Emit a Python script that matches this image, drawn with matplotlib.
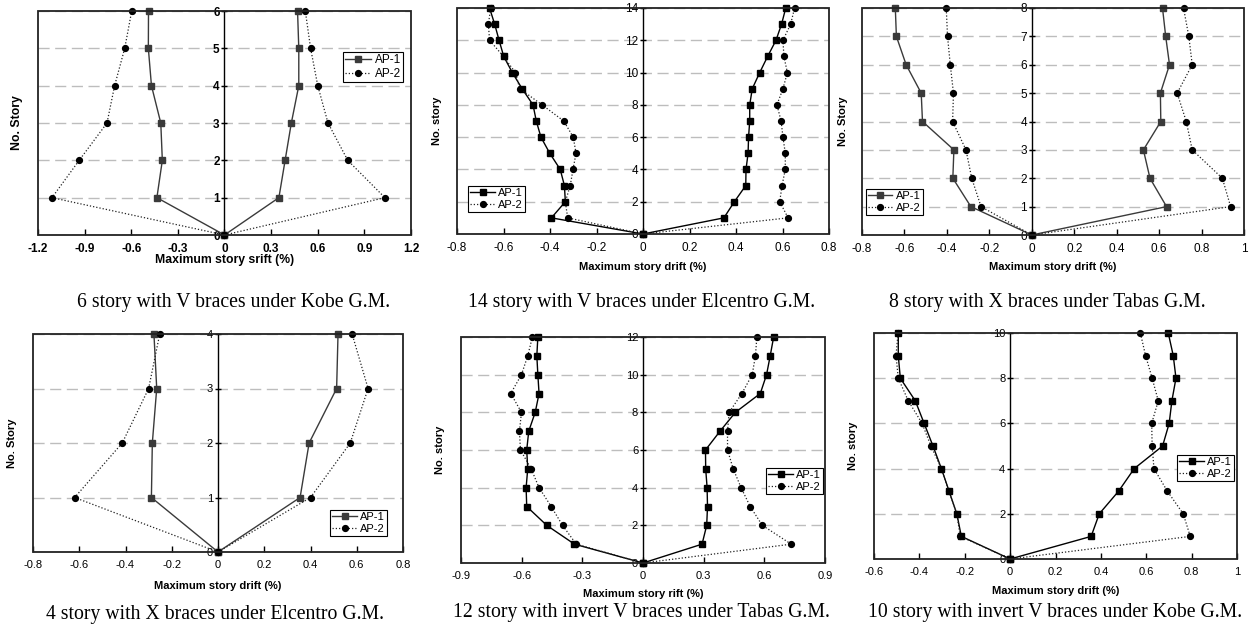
import matplotlib
matplotlib.use("Agg")
import matplotlib.pyplot as plt
from matplotlib.patches import Rectangle
from matplotlib.ticker import FuncFormatter

plt.rcParams['font.family'] = ['Liberation Sans', 'DejaVu Sans']

W, H = 1249, 627

# 6 story with V braces under Kobe
p1_story = [1, 2, 3, 4, 5, 6]
p1_ap1_neg = [-0.435, -0.40, -0.41, -0.47, -0.49, -0.489]
p1_ap1_pos = [0.35, 0.39, 0.43, 0.478, 0.478, 0.47]
p1_ap2_neg = [-1.11, -0.935, -0.756, -0.707, -0.642, -0.597]
p1_ap2_pos = [1.032, 0.793, 0.666, 0.60, 0.554, 0.52]

# 14 story with V braces under Elcentro
p2_story = list(range(1, 15))
p2_ap1_neg = [-0.394, -0.334, -0.338, -0.356, -0.401, -0.439, -0.459,
              -0.473, -0.52, -0.562, -0.599, -0.619, -0.638, -0.66]
p2_ap1_pos = [0.348, 0.393, 0.442, 0.443, 0.452, 0.454, 0.459,
              0.459, 0.47, 0.502, 0.536, 0.572, 0.596, 0.614]
p2_ap2_neg = [-0.324, -0.334, -0.313, -0.301, -0.288, -0.30, -0.341,
              -0.434, -0.53, -0.549, -0.60, -0.66, -0.665, -0.655]
p2_ap2_pos = [0.624, 0.588, 0.598, 0.612, 0.612, 0.602, 0.594,
              0.576, 0.602, 0.621, 0.606, 0.602, 0.635, 0.652]

# 8 story with X braces under Tabas
p3_story = list(range(1, 9))
p3_ap1_neg = [-0.287, -0.372, -0.367, -0.515, -0.521, -0.592, -0.638, -0.643]
p3_ap1_pos = [0.635, 0.557, 0.526, 0.608, 0.606, 0.649, 0.631, 0.616]
p3_ap2_neg = [-0.239, -0.283, -0.31, -0.373, -0.369, -0.384, -0.397, -0.403]
p3_ap2_pos = [0.937, 0.898, 0.756, 0.728, 0.685, 0.756, 0.74, 0.715]

# 4 story with X braces under Elcentro
p4_story = [1, 2, 3, 4]
p4_ap1_neg = [-0.288, -0.284, -0.265, -0.277]
p4_ap1_pos = [0.355, 0.394, 0.513, 0.519]
p4_ap2_neg = [-0.62, -0.414, -0.30, -0.252]
p4_ap2_pos = [0.40, 0.572, 0.649, 0.58]

# 12 story with invert V braces under Tabas
p5_story = list(range(1, 13))
p5_ap1_neg = [-0.339, -0.476, -0.575, -0.578, -0.57, -0.575,
              -0.565, -0.533, -0.514, -0.52, -0.525, -0.52]
p5_ap1_pos = [0.292, 0.315, 0.319, 0.317, 0.31, 0.309,
              0.381, 0.457, 0.58, 0.611, 0.629, 0.646]
p5_ap2_neg = [-0.33, -0.398, -0.454, -0.514, -0.553, -0.606,
              -0.611, -0.601, -0.654, -0.601, -0.57, -0.547]
p5_ap2_pos = [0.733, 0.59, 0.53, 0.485, 0.446, 0.418,
              0.418, 0.426, 0.489, 0.54, 0.556, 0.563]

# 10 story with invert V braces under Kobe
p6_story = list(range(1, 11))
p6_ap1_neg = [-0.215, -0.235, -0.269, -0.303, -0.34, -0.379, -0.418, -0.484, -0.493, -0.493]
p6_ap1_pos = [0.357, 0.393, 0.478, 0.547, 0.672, 0.701, 0.713, 0.731, 0.719, 0.697]
p6_ap2_neg = [-0.22, -0.235, -0.27, -0.303, -0.349, -0.388, -0.449, -0.493, -0.503, -0.494]
p6_ap2_pos = [0.794, 0.763, 0.693, 0.634, 0.626, 0.624, 0.653, 0.626, 0.597, 0.574]

panels = [
    dict(box=(38, 411, 11, 235), xlim=(-1.2, 1.2), xstep=0.3, ymax=6, ystep=1,
         story=p1_story, data=(p1_ap1_neg, p1_ap1_pos, p1_ap2_neg, p1_ap2_pos),
         xlabel="Maximum story srift (%)", ylabel="No. Story", bold=True, fs=8.5, lfs=8.8,
         c1="#3a3a3a", leg=("upper right", (0.979, 0.817)),
         xl_y=260, yl_x=17, caption="6 story with V braces under Kobe G.M.", cap=(234, 303)),
    dict(box=(457, 829, 8, 234), xlim=(-0.8, 0.8), xstep=0.2, ymax=14, ystep=2,
         story=p2_story, data=(p2_ap1_neg, p2_ap1_pos, p2_ap2_neg, p2_ap2_pos),
         xlabel="Maximum story drift (%)", ylabel="No. story", bold=False, fs=8.5, lfs=8,
         c1="black", leg=("lower left", (0.03, 0.097)),
         xl_y=267, yl_x=437, caption="14 story with V braces under Elcentro G.M.", cap=(642, 303)),
    dict(box=(862, 1244, 8, 235), xlim=(-0.8, 1.0), xstep=0.2, ymax=8, ystep=1,
         story=p3_story, data=(p3_ap1_neg, p3_ap1_pos, p3_ap2_neg, p3_ap2_pos),
         xlabel="Maximum story drift (%)", ylabel="No. Story", bold=False, fs=8.5, lfs=8,
         c1="#3a3a3a", leg=("lower left", (0.01, 0.088)),
         xl_y=267, yl_x=843, caption="8 story with X braces under Tabas G.M.", cap=(1047, 303)),
    dict(box=(33, 403, 334, 552), xlim=(-0.8, 0.8), xstep=0.2, ymax=4, ystep=1,
         story=p4_story, data=(p4_ap1_neg, p4_ap1_pos, p4_ap2_neg, p4_ap2_pos),
         xlabel="Maximum story drift (%)", ylabel="No. Story", bold=False, fs=8, lfs=8,
         c1="#3a3a3a", leg=("lower right", (0.957, 0.073)),
         xl_y=586, yl_x=12, caption="4 story with X braces under Elcentro G.M.", cap=(215, 614)),
    dict(box=(461, 825, 337, 563), xlim=(-0.9, 0.9), xstep=0.3, ymax=12, ystep=2,
         story=p5_story, data=(p5_ap1_neg, p5_ap1_pos, p5_ap2_neg, p5_ap2_pos),
         xlabel="Maximum story rift (%)", ylabel="No. story", bold=False, fs=8, lfs=8,
         c1="black", leg=("lower right", (0.995, 0.305)),
         xl_y=594, yl_x=440, caption="12 story with invert V braces under Tabas G.M.", cap=(641, 613)),
    dict(box=(874, 1237, 333, 559), xlim=(-0.6, 1.0), xstep=0.2, ymax=10, ystep=2,
         story=p6_story, data=(p6_ap1_neg, p6_ap1_pos, p6_ap2_neg, p6_ap2_pos),
         xlabel="Maximum story drift (%)", ylabel="No. story", bold=False, fs=8, lfs=8,
         c1="black", leg=("lower right", (0.992, 0.345)),
         xl_y=591, yl_x=853, caption="10 story with invert V braces under Kobe G.M.", cap=(1055, 613)),
]

fig = plt.figure(figsize=(W / 100, H / 100), dpi=100)

fmt = FuncFormatter(lambda v, p: f"{round(v, 2):g}" if abs(v) > 1e-9 else "0")

for pn in panels:
    l, r, t, b = pn["box"]
    ax = fig.add_axes([l / W, 1 - b / H, (r - l) / W, (b - t) / H])
    ap1_neg, ap1_pos, ap2_neg, ap2_pos = pn["data"]
    st = [0] + pn["story"]

    for xs, lab in [(ap1_neg, "AP-1"), (ap1_pos, None)]:
        ax.plot([0] + xs, st, color=pn["c1"], lw=1.0, marker="s", ms=4.8,
                mfc=pn["c1"], mec=pn["c1"], label=lab, zorder=3, clip_on=False)
    for xs, lab in [(ap2_neg, "AP-2"), (ap2_pos, None)]:
        ax.plot([0] + xs, st, color="#222222", lw=0.9, ls=(0, (1, 1.6)), marker="o", ms=4.2,
                mfc="black", mec="black", label=lab, zorder=4, clip_on=False)

    x0, x1 = pn["xlim"]
    ax.set_xlim(x0, x1)
    ax.set_ylim(0, pn["ymax"])
    n = int(round((x1 - x0) / pn["xstep"]))
    ax.set_xticks([round(x0 + i * pn["xstep"], 2) for i in range(n + 1)])
    ax.set_yticks(list(range(0, pn["ymax"] + 1, pn["ystep"])))
    ax.xaxis.set_major_formatter(fmt)

    ax.yaxis.grid(True, color="#bdbdbd", ls=(0, (8, 4)), lw=1.0)
    ax.set_axisbelow(True)

    for s in ("top", "right", "bottom"):
        ax.spines[s].set_visible(False)
    ax.spines["left"].set_position(("data", 0))
    ax.spines["left"].set_color("black")
    ax.spines["left"].set_linewidth(1.0)
    ax.add_patch(Rectangle((0, 0), 1, 1, transform=ax.transAxes, fill=False,
                           ec="#222222", lw=1.3, clip_on=False, zorder=6))

    weight = "bold" if pn["bold"] else "normal"
    ax.tick_params(axis="x", direction="in", length=4, width=1, pad=6,
                   labelsize=pn["fs"], top=False)
    ax.tick_params(axis="y", direction="inout", length=5, width=1, pad=1,
                   labelsize=pn["fs"])
    for lab in ax.get_xticklabels() + ax.get_yticklabels():
        lab.set_fontweight(weight)

    ax.set_xlabel(pn["xlabel"], fontsize=pn["lfs"], fontweight="bold")
    ax.xaxis.label.set_va("center")
    ax.xaxis.set_label_coords(0.5, -(pn["xl_y"] - b) / (b - t))
    ax.set_ylabel(pn["ylabel"], fontsize=pn["lfs"], fontweight="bold")
    ax.yaxis.label.set_va("center")
    ax.yaxis.set_label_coords((pn["yl_x"] - l) / (r - l), 0.5)

    loc, anchor = pn["leg"]
    leg = ax.legend(loc=loc, bbox_to_anchor=anchor, fontsize=8.5 if pn["bold"] else 8,
                    frameon=True, fancybox=False, edgecolor="black", framealpha=1,
                    borderpad=0.2, labelspacing=0.15, handlelength=2.2,
                    handletextpad=0.3, borderaxespad=0)
    leg.get_frame().set_linewidth(0.8)
    leg.set_zorder(10)

    cx, cy = pn["cap"]
    fig.text(cx / W, 1 - cy / H, pn["caption"], ha="center", va="center",
             family=["Liberation Serif", "DejaVu Serif"], fontsize=14.2)

fig.savefig("out.png", dpi=100)
